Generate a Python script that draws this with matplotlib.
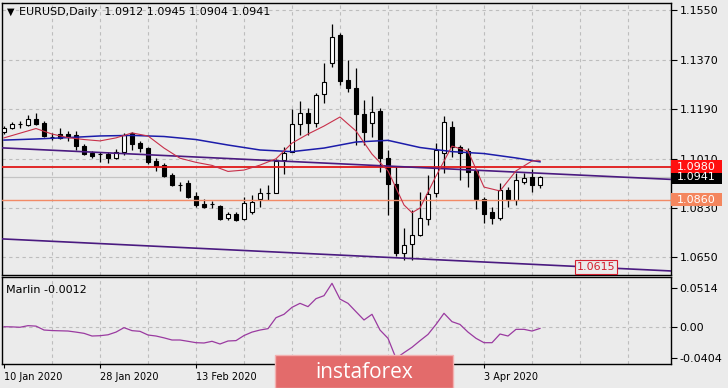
import matplotlib
matplotlib.use("Agg")
import matplotlib.pyplot as plt
import matplotlib.transforms as mtransforms
from matplotlib.patches import Rectangle
import numpy as np

W, H = 728, 388

# EURUSD daily bars, 10 Jan 2020 .. 14 Apr 2020
opens = [1.1106, 1.1121, 1.1136, 1.1132, 1.1154, 1.1139, 1.1089, 1.1099, 1.1099, 1.1095,
         1.1055, 1.1030, 1.1027, 1.1026, 1.1012, 1.1034, 1.1103, 1.1066, 1.1048, 1.1001,
         1.0986, 1.0950, 1.0915, 1.0921, 1.0874, 1.0845, 1.0846, 1.0837, 1.0794, 1.0808,
         1.0790, 1.0815, 1.0863, 1.0886, 1.0885, 1.1005, 1.1034, 1.1135, 1.1175, 1.1139,
         1.1245, 1.1357, 1.1459, 1.1295, 1.1266, 1.1172, 1.1139, 1.1183, 1.1012, 1.0917,
         1.0666, 1.0699, 1.0732, 1.0790, 1.0885, 1.1030, 1.1125, 1.1052, 1.1037, 1.0965,
         1.0863, 1.0815, 1.0794, 1.0895, 1.0859, 1.0925, 1.0943, 1.0912]
highs = [1.1128, 1.1143, 1.1146, 1.1168, 1.1175, 1.1146, 1.1103, 1.1121, 1.1110, 1.1110,
         1.1063, 1.1037, 1.1034, 1.1034, 1.1045, 1.1103, 1.1106, 1.1074, 1.1052, 1.1012,
         1.0994, 1.0957, 1.0925, 1.0932, 1.0888, 1.0863, 1.0855, 1.0841, 1.0815, 1.0815,
         1.0870, 1.0877, 1.0903, 1.0914, 1.1008, 1.1052, 1.1190, 1.1219, 1.1194, 1.1248,
         1.1357, 1.1499, 1.1466, 1.1368, 1.1339, 1.1223, 1.1237, 1.1194, 1.1041, 1.0983,
         1.0757, 1.0823, 1.0888, 1.0950, 1.1066, 1.1165, 1.1146, 1.1059, 1.1048, 1.0968,
         1.0870, 1.0834, 1.0921, 1.0906, 1.0957, 1.0957, 1.0972, 1.0945]
lows = [1.1099, 1.1117, 1.1121, 1.1128, 1.1132, 1.1088, 1.1077, 1.1081, 1.1074, 1.1041,
        1.1023, 1.1012, 1.0997, 1.0994, 1.1008, 1.1023, 1.1041, 1.1034, 1.0990, 1.0965,
        1.0943, 1.0910, 1.0892, 1.0866, 1.0834, 1.0830, 1.0830, 1.0786, 1.0786, 1.0783,
        1.0786, 1.0808, 1.0834, 1.0859, 1.0885, 1.0954, 1.1034, 1.1095, 1.1095, 1.1125,
        1.1212, 1.1343, 1.1277, 1.1252, 1.1059, 1.1059, 1.1088, 1.0961, 1.0805, 1.0655,
        1.0641, 1.0641, 1.0728, 1.0768, 1.0870, 1.0957, 1.1015, 1.0932, 1.0906, 1.0826,
        1.0775, 1.0772, 1.0786, 1.0834, 1.0841, 1.0917, 1.0888, 1.0904]
closes = [1.1121, 1.1135, 1.1134, 1.1154, 1.1135, 1.1092, 1.1087, 1.1085, 1.1088, 1.1055,
          1.1026, 1.1019, 1.1025, 1.1012, 1.1034, 1.1095, 1.1063, 1.1048, 1.0997, 1.0983,
          1.0946, 1.0914, 1.0913, 1.0870, 1.0841, 1.0834, 1.0844, 1.0790, 1.0808, 1.0786,
          1.0848, 1.0852, 1.0885, 1.0884, 1.1001, 1.1030, 1.1135, 1.1175, 1.1139, 1.1241,
          1.1288, 1.1452, 1.1292, 1.1266, 1.1172, 1.1106, 1.1179, 1.1012, 1.0917, 1.0666,
          1.0695, 1.0732, 1.0794, 1.0881, 1.1041, 1.1143, 1.1052, 1.1030, 1.0961, 1.0863,
          1.0808, 1.0794, 1.0895, 1.0859, 1.0932, 1.0939, 1.0914, 1.0941]

# moving averages (bar index, price)
slow_ma_bars = [0, 4, 8, 12, 16, 20, 24, 28, 32, 36, 40, 44, 48, 52, 56, 60, 64, 67]
slow_ma = [1.1077, 1.1081, 1.1086, 1.1092, 1.1094, 1.1090, 1.1079, 1.1059, 1.1041,
           1.1035, 1.1048, 1.1070, 1.1076, 1.1050, 1.1035, 1.1028, 1.1012, 1.0998]
fast_ma_bars = [0, 2, 4, 6, 8, 10, 12, 14, 16, 18, 20, 22, 24, 26, 28, 30, 32, 34, 36,
                38, 40, 42, 44, 46, 48, 50, 51, 52, 54, 56, 58, 60, 62, 64, 66, 67]
fast_ma = [1.1085, 1.1102, 1.1119, 1.1099, 1.1086, 1.1079, 1.1074, 1.1085, 1.1103,
           1.1092, 1.1048, 1.1011, 1.0996, 1.0985, 1.0963, 1.0968, 1.0986, 1.1009,
           1.1066, 1.1099, 1.1128, 1.1161, 1.1110, 1.1026, 1.0965, 1.0841, 1.0813,
           1.0830, 1.0946, 1.1055, 1.1037, 1.0906, 1.0892, 1.0965, 1.1001, 1.1002]

marlin = [0.0010, 0.0008, 0.0003, 0.0024, 0.0018, -0.0033, -0.0040, -0.0043, -0.0046, -0.0060,
          -0.0076, -0.0111, -0.0107, -0.0095, -0.0060, -0.0002, -0.0041, -0.0050, -0.0098, -0.0111,
          -0.0135, -0.0163, -0.0163, -0.0180, -0.0198, -0.0202, -0.0180, -0.0215, -0.0176, -0.0171,
          -0.0105, -0.0060, -0.0033, -0.0015, 0.0128, 0.0172, 0.0263, 0.0315, 0.0272, 0.0376,
          0.0415, 0.0576, 0.0370, 0.0315, 0.0206, 0.0098, 0.0172, -0.0033, -0.0141, -0.0402,
          -0.0328, -0.0258, -0.0172, -0.0090, 0.0040, 0.0185, 0.0076, 0.0040, -0.0060, -0.0141,
          -0.0198, -0.0198, -0.0085, -0.0111, -0.0024, -0.0024, -0.0046, -0.0012]

# labels under the watermark are not visible in the picture, so only these
date_bars = [0, 12, 24, 60]
date_labels = ["10 Jan 2020", "28 Jan 2020", "13 Feb 2020", "3 Apr 2020"]
price_ticks = [1.1550, 1.1370, 1.1190, 1.1010, 1.0830, 1.0650]
marlin_ticks = [0.0514, 0.0, -0.0404]

resistance = 1.0980
support = 1.0860
target = 1.0615
upper_trend = ([-0.5, 83.4], [1.1049, 1.0934])
lower_trend = ([-0.5, 83.4], [1.0718, 1.0601])

bg = "#ebebeb"
fig = plt.figure(figsize=(W / 100, H / 100), dpi=100, facecolor=bg)


def px_axes(left, top, right, bottom):
    return fig.add_axes([left / W, 1 - bottom / H, (right - left) / W, (bottom - top) / H])


ax = px_axes(2, 3, 671, 275)
ax2 = px_axes(2, 277, 671, 364)
for a in (ax, ax2):
    a.set_facecolor(bg)
    a.set_xlim(-0.25, 83.375)
    for s in a.spines.values():
        s.set_color("black")
        s.set_linewidth(1)
    a.yaxis.tick_right()
    a.tick_params(axis="y", length=4, width=0.8, pad=2, labelsize=8, colors="black")
    for xg in range(6, 84, 6):
        a.axvline(xg, color="#bdbdbd", lw=0.8, ls=(0, (3, 3)), zorder=0)

ax.set_ylim(1.058636, 1.15755)
ax.set_yticks(price_ticks)
ax.set_yticklabels([f"{p:.4f}" for p in price_ticks])
ax.set_xticks([])
for p in price_ticks:
    ax.axhline(p, color="#bdbdbd", lw=0.8, ls=(0, (3, 3)), zorder=0)

o, h, l, c = map(np.array, (opens, highs, lows, closes))
x = np.arange(len(o))
up = c >= o
ax.vlines(x, l, h, color="black", lw=0.9, zorder=2)
ax.bar(x[up], (c - o)[up], bottom=o[up], width=0.62, color="white", edgecolor="black", lw=0.8, zorder=3)
ax.bar(x[~up], (o - c)[~up], bottom=c[~up], width=0.62, color="black", edgecolor="black", lw=0.8, zorder=3)

ax.axhline(c[-1], color="#c4c4c4", lw=0.9, zorder=1)
ax.axhline(resistance, color="#e01818", lw=1.3, zorder=4)
ax.axhline(support, color="#f28a66", lw=1.0, zorder=4)
ax.plot(*upper_trend, color="#4a1a80", lw=1.2, zorder=4)
ax.plot(*lower_trend, color="#4a1a80", lw=1.2, zorder=4)
ax.plot(slow_ma_bars, slow_ma, color="#1c1caa", lw=1.1, zorder=5)
ax.plot(fast_ma_bars, fast_ma, color="#c8304a", lw=0.8, zorder=5)

ax.text(71.6, target, f"{target:.4f}", color="#d42030", fontsize=8, va="center", ha="left",
        zorder=6, bbox=dict(boxstyle="square,pad=0.15", fc=bg, ec="#d42030", lw=0.8))

trans = mtransforms.blended_transform_factory(ax.transAxes, ax.transData)
half = 6.5 / 2750
for val, col in [(c[-1], "black"), (resistance, "#ff1010"), (support, "#f4865e")]:
    ax.add_patch(Rectangle((1.0, val - half), 51 / 669, 2 * half, transform=trans,
                           facecolor=col, edgecolor="none", clip_on=False, zorder=7))
    ax.text(1.0 + 6 / 669, val, f"{val:.4f}", transform=trans, color="white", fontsize=8,
            va="center", ha="left", clip_on=False, zorder=8)

# Marlin oscillator
ax2.set_ylim(-0.04759, 0.06584)
ax2.set_yticks(marlin_ticks)
ax2.set_yticklabels(["0.0514", "0.00", "-0.0404"])
ax2.axhline(0, color="#bdbdbd", lw=0.8, ls=(0, (3, 3)), zorder=0)
ax2.plot(x, marlin, color="#9a3aa0", lw=0.9)
ax2.set_xticks(date_bars)
ax2.set_xticklabels(date_labels, ha="left", fontsize=7)
ax2.tick_params(axis="x", length=3, width=0.8, pad=3)

fig.text(7 / W, 1 - 12 / H, "\u25bc", fontsize=7, va="center", ha="left")
fig.text(19 / W, 1 - 12 / H,
         f"EURUSD,Daily  {opens[-1]:.4f} {highs[-1]:.4f} {lows[-1]:.4f} {closes[-1]:.4f}",
         fontsize=8, va="center", ha="left")
fig.text(6 / W, 1 - 290 / H, f"Marlin {marlin[-1]:.4f}", fontsize=8, va="center", ha="left")

# watermark
fig.add_artist(Rectangle((275 / W, 0), 178 / W, 33 / H, transform=fig.transFigure,
                         facecolor="#e36b6b", edgecolor="#f2b0b0", lw=1))
fig.text(364 / W, 1 - 372 / H, "instaforex", color="white", fontsize=15, ha="center",
         va="center", family="Open Sans")

fig.savefig("out.png", dpi=100, facecolor=bg)
